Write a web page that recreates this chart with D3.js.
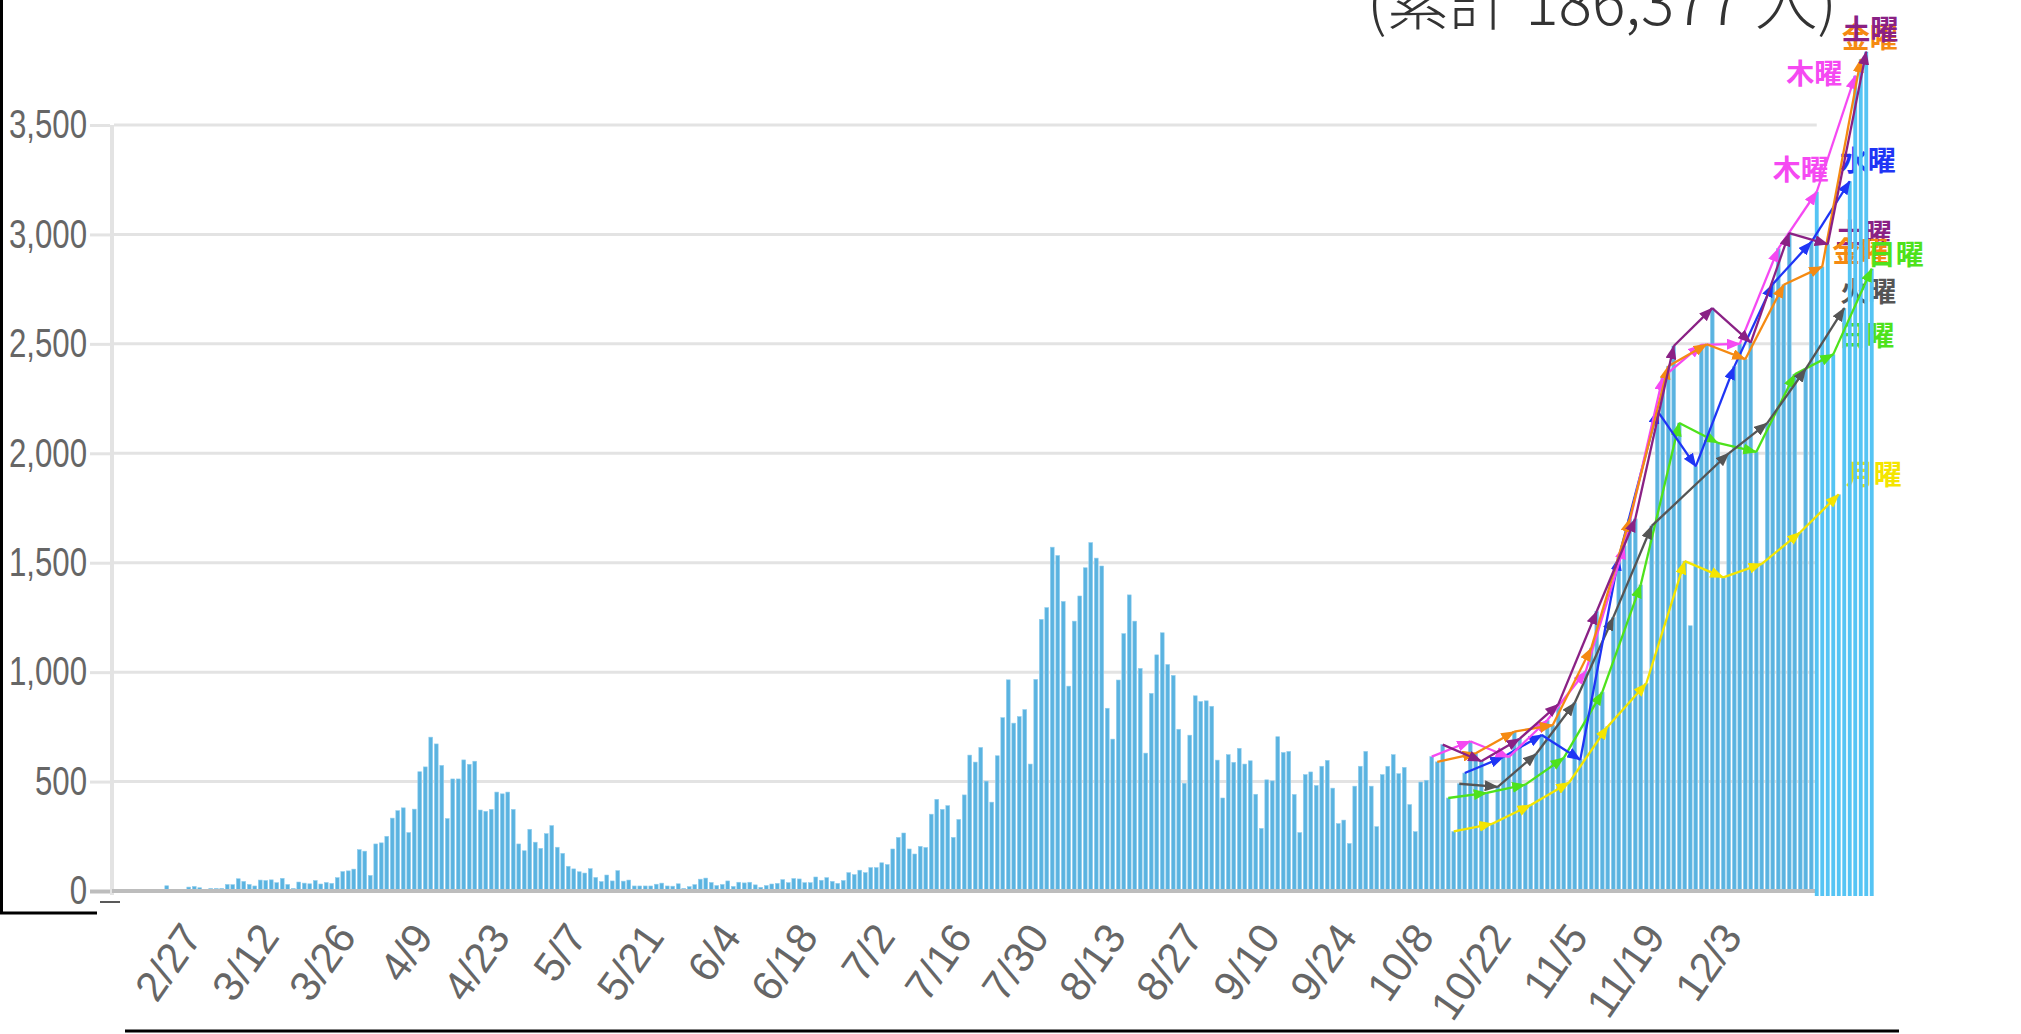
<!DOCTYPE html>
<html>
<head>
<meta charset="utf-8">
<script src="https://cdn.jsdelivr.net/npm/d3@7"></script>
<style>
  body { margin: 0; background: #fff; }
  svg { display: block; }
</style>
</head>
<body>
<script>
// daily new cases from 2/13 to 10/7
const earlyCases = [
  6, 7, 3, 3, 3, 6, 6, 6, 24, 7, 7, 6, 18, 21, 15, 6, 12, 12, 12, 30, 29, 56, 44, 30, 23, 50, 48, 51, 38, 58,
  30, 12, 41, 36, 33, 48, 32, 39, 35, 61, 89, 92, 100, 189, 182, 71, 215, 220, 250, 333, 367, 380, 267, 374, 545, 567, 703,
  672, 574, 331, 512, 512, 599, 579, 593, 370, 364, 373, 452, 444, 452, 373, 215, 184, 282, 223, 195, 262, 299, 200, 172,
  113, 101, 88, 82, 102, 62, 43, 73, 46, 93, 45, 50, 23, 23, 23, 23, 31, 36, 23, 22, 33, 12, 20, 29, 54, 59, 39, 25, 30,
  46, 21, 40, 37, 40, 28, 17, 25, 32, 35, 52, 38, 57, 55, 38, 38, 64, 49, 61, 44, 35, 48, 84, 75, 95, 84, 107, 107, 129,
  121, 192, 245, 265, 192, 169, 204, 199, 351, 419, 373, 390, 245, 327, 439, 621, 589, 656, 502, 406, 618,
  792, 965, 767, 797, 829, 580, 967, 1241, 1295, 1571, 1533, 1323, 936, 1233, 1348, 1477, 1592, 1521, 1485, 835, 694,
  964, 1176, 1353, 1233, 1017, 630, 903, 1079, 1180, 1035, 985, 739, 492, 712, 892, 866, 869, 844, 598, 425, 623, 588,
  652, 580, 595, 442, 286, 508, 503, 705, 633, 638,
  441, 267, 532, 544, 482, 570, 597, 470, 308, 324, 217, 479, 570, 638, 479, 294, 532, 570, 623, 536, 565, 395, 271, 498, 506
];

// same weekday, week by week, from 10/8 on
const thuCases = [614, 684, 612, 780, 1004, 1577, 2347, 2495, 2500, 2935, 3195, 3725]; // from 10/8
const friCases = [590, 629, 728, 758, 1110, 1700, 2398, 2498, 2430, 2770, 2853, 3800]; // from 10/9
const satCases = [669, 593, 696, 853, 1278, 1700, 2490, 2663, 2506, 3006, 2955, 3835]; // from 10/10
const sunCases = [425, 448, 486, 608, 909, 1399, 2138, 2048, 2006, 2361, 2452, 2843]; // from 10/11
const monCases = [272, 307, 393, 496, 752, 948, 1507, 1433, 1495, 1639, 1812];        // from 10/12
const tueCases = [490, 476, 627, 860, 1250, 1668, 1212, 2000, 2138, 2386, 2663];      // from 10/13
const wedCases = [539, 612, 713, 600, 1524, 2195, 1940, 2396, 2773, 2965, 3243];      // from 10/14

const yTicks = [0, 500, 1000, 1500, 2000, 2500, 3000, 3500];
const totalText = "(累計 186,377 人)";

const startDate = new Date(2020, 1, 13);
const endDate = new Date(2020, 11, 27);

const weekdays = [
  { name: "月曜", start: "10/12", values: monCases, skip: [], color: "#f4e500" },
  { name: "日曜", start: "10/11", values: sunCases, skip: [], color: "#4ee21c" },
  { name: "火曜", start: "10/13", values: tueCases, skip: ["11/24"], color: "#555555" },
  { name: "水曜", start: "10/14", values: wedCases, skip: [], color: "#1f35f5" },
  { name: "木曜", start: "10/8", values: thuCases, skip: [], color: "#f549f2" },
  { name: "金曜", start: "10/9", values: friCases, skip: [], color: "#f58a12" },
  { name: "土曜", start: "10/10", values: satCases, skip: [], color: "#8a2185" }
];

// where the weekday names sit next to a point
const labelSpots = [
  { day: "土曜", at: "12/19", dx: 8, dy: 0 },
  { day: "金曜", at: "12/18", dx: 10, dy: -5 },
  { day: "日曜", at: "12/20", dx: 5, dy: -8 },
  { day: "木曜", at: "12/17", dx: -44, dy: -12 },
  { day: "月曜", at: "12/21", dx: 7, dy: -9 },
  { day: "火曜", at: "12/22", dx: -4, dy: -6 },
  { day: "水曜", at: "12/23", dx: -10, dy: -10 },
  { day: "木曜", at: "12/24", dx: -69, dy: 8 },
  { day: "金曜", at: "12/25", dx: -19, dy: -11 },
  { day: "土曜", at: "12/26", dx: -24, dy: -12 },
  { day: "日曜", at: "12/27", dx: -4, dy: -4 }
];

const brightFrom = "12/17";

const fmt = d => (d.getMonth() + 1) + "/" + d.getDate();
const dates = d3.timeDay.range(startDate, d3.timeDay.offset(endDate, 1));
const dateLabels = dates.map(fmt);

// fill in the daily table
let cases = dateLabels.map((d, i) => i < earlyCases.length ? earlyCases[i] : null);
weekdays.forEach(s => {
  let i0 = dateLabels.indexOf(s.start);
  s.values.forEach((v, k) => { cases[i0 + 7 * k] = v; });
});
const table = dateLabels.map((d, i) => ({ d: d, v: cases[i], i: i }));

const W = 2021, H = 1034;
const svg = d3.select("body").append("svg").attr("width", W).attr("height", H);

let x = d3.scaleBand()
  .domain(dateLabels)
  .range([120, 120 + 5.5 * dateLabels.length])
  .paddingInner(0.3)
  .paddingOuter(0.15);
let y = d3.scaleLinear().domain([0, 3500]).range([891, 125]);
const bw = x.bandwidth();
const cx = d => x(d) + bw / 2;
const gridEnd = cx(brightFrom);
const brightIdx = dateLabels.indexOf(brightFrom);

// title (top is cut off)
let title = svg.append("text")
  .attr("x", 1367)
  .attr("y", 25)
  .style("font-family", "'Noto Sans CJK JP', sans-serif")
  .style("font-weight", 300)
  .style("font-size", "60px")
  .attr("fill", "#333")
  .text(totalText);
let tl = title.node().getComputedTextLength();
title.style("font-size", (60 * 470 / tl) + "px");

// gridlines
svg.append("g").selectAll("line")
  .data(yTicks.filter(t => t > 0))
  .enter().append("line")
  .attr("x1", 114).attr("x2", gridEnd)
  .attr("y1", d => y(d)).attr("y2", d => y(d))
  .attr("stroke", "#e3e3e3")
  .attr("stroke-width", 3);

// y axis, narrow digits
const squeeze = 0.78;
let yAxisG = svg.append("g")
  .attr("transform", "translate(110,0)")
  .call(d3.axisLeft(y).tickValues(yTicks).tickSize(20).tickPadding(3).tickFormat(d3.format(",")));
yAxisG.select(".domain").remove();
yAxisG.selectAll(".tick line")
  .attr("stroke", d => d === 0 ? "#bdbdbd" : "#e3e3e3")
  .attr("stroke-width", d => d === 0 ? 4 : 3);
yAxisG.selectAll(".tick text")
  .attr("x", -23 / squeeze)
  .attr("transform", "scale(" + squeeze + ",1)")
  .attr("fill", "#666")
  .style("font-family", "'Liberation Sans', Arial, sans-serif")
  .style("font-size", "40px");

svg.append("line")
  .attr("x1", 112).attr("x2", 112)
  .attr("y1", y(3500)).attr("y2", y(0) + 4)
  .attr("stroke", "#e3e3e3")
  .attr("stroke-width", 4);

// labels that end up behind the newest bars
let labelG = svg.append("g");

// bars
svg.append("g").selectAll("rect")
  .data(table.filter(r => r.i < brightIdx))
  .enter().append("rect")
  .attr("x", r => x(r.d))
  .attr("width", bw)
  .attr("y", r => y(r.v))
  .attr("height", r => y(0) - y(r.v))
  .attr("fill", "#5ab3e0")
  .attr("stroke", "#93cfee")
  .attr("stroke-width", 0.6);

svg.append("line")
  .attr("x1", 112).attr("x2", gridEnd)
  .attr("y1", y(0)).attr("y2", y(0))
  .attr("stroke", "#bdbdbd")
  .attr("stroke-width", 4);

svg.append("g").selectAll("rect")
  .data(table.filter(r => r.i >= brightIdx))
  .enter().append("rect")
  .attr("x", r => x(r.d))
  .attr("width", bw)
  .attr("y", r => y(r.v))
  .attr("height", r => y(0) - y(r.v) + 5)
  .attr("fill", "#55c4f4");

// x axis
let xAxisG = svg.append("g")
  .attr("transform", "translate(0," + y(0) + ")")
  .call(d3.axisBottom(x)
    .tickValues(dateLabels.filter((d, i) => i >= 14 && (i - 14) % 14 === 0 && d !== "12/17"))
    .tickSize(0));
xAxisG.select(".domain").remove();
xAxisG.selectAll(".tick text")
  .attr("x", 4)
  .attr("y", 46)
  .attr("dy", null)
  .attr("text-anchor", "end")
  .attr("transform", "rotate(-55 4 46)")
  .attr("fill", "#666")
  .style("font-family", "'Liberation Sans', Arial, sans-serif")
  .style("font-size", "42px");

// weekday names
const colorOf = {};
weekdays.forEach(s => { colorOf[s.name] = s.color; });
labelG.selectAll("text")
  .data(labelSpots)
  .enter().append("text")
  .attr("x", l => cx(l.at) + l.dx)
  .attr("y", l => y(cases[dateLabels.indexOf(l.at)]) + l.dy)
  .attr("fill", l => colorOf[l.day])
  .style("font-family", "'Noto Sans CJK JP', sans-serif")
  .style("font-weight", 700)
  .style("font-size", "28px")
  .text(l => l.day);

// weekday lines with arrows
let defs = svg.append("defs");
weekdays.forEach((s, n) => {
  defs.append("marker")
    .attr("id", "arrow" + n)
    .attr("viewBox", "0 0 14 11")
    .attr("refX", 13)
    .attr("refY", 5.5)
    .attr("markerWidth", 14)
    .attr("markerHeight", 11)
    .attr("markerUnits", "userSpaceOnUse")
    .attr("orient", "auto")
    .append("path")
    .attr("d", "M0,0 L14,5.5 L0,11 z")
    .attr("fill", s.color);
});

let lineG = svg.append("g");
weekdays.forEach((s, n) => {
  let i0 = dateLabels.indexOf(s.start);
  let pts = s.values
    .map((v, k) => ({ d: dateLabels[i0 + 7 * k], v: v }))
    .filter(p => s.skip.indexOf(p.d) < 0);
  let segs = d3.pairs(pts);
  lineG.append("g").selectAll("line")
    .data(segs)
    .enter().append("line")
    .attr("x1", p => cx(p[0].d))
    .attr("y1", p => y(p[0].v))
    .attr("x2", p => cx(p[1].d))
    .attr("y2", p => y(p[1].v))
    .attr("stroke", s.color)
    .attr("stroke-width", 2.3)
    .attr("marker-end", "url(#arrow" + n + ")");
});

// black frame bits
svg.append("line").attr("x1", 1.5).attr("x2", 1.5).attr("y1", 0).attr("y2", 913)
  .attr("stroke", "#000").attr("stroke-width", 3);
svg.append("line").attr("x1", 0).attr("x2", 97).attr("y1", 913).attr("y2", 913)
  .attr("stroke", "#000").attr("stroke-width", 3);
svg.append("line").attr("x1", 100).attr("x2", 120).attr("y1", 902).attr("y2", 902)
  .attr("stroke", "#222").attr("stroke-width", 1.5);
svg.append("line").attr("x1", 125).attr("x2", 1899).attr("y1", 1031).attr("y2", 1031)
  .attr("stroke", "#000").attr("stroke-width", 3);
</script>
</body>
</html>
